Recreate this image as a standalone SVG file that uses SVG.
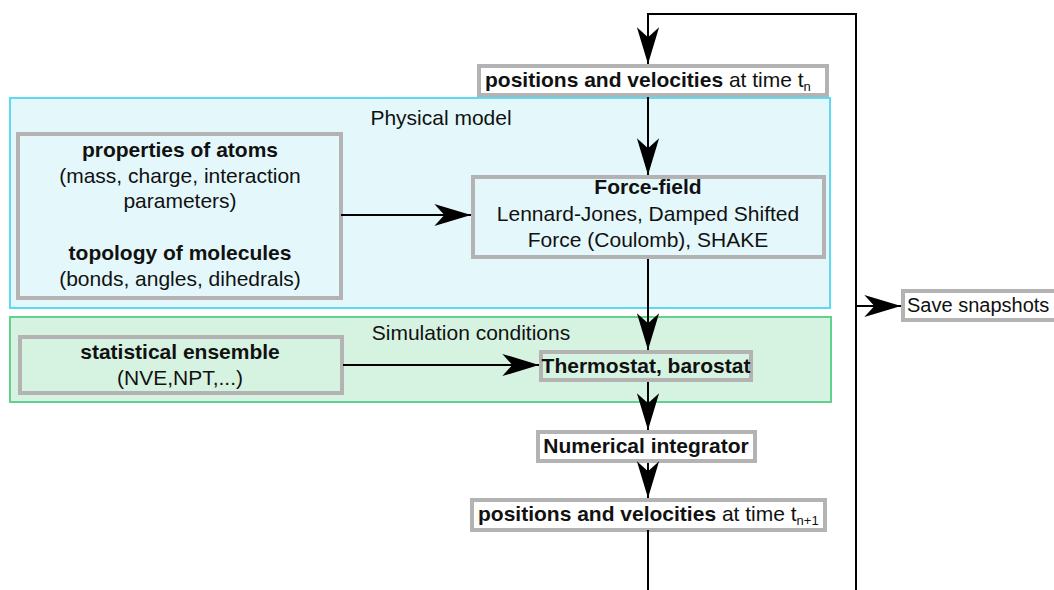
<svg xmlns="http://www.w3.org/2000/svg" width="1054" height="590" viewBox="0 0 1054 590">
<style>
text{font-family:"Liberation Sans",Arial,sans-serif;font-size:21px;fill:#111;}
.b{font-weight:bold;}
.c{text-anchor:middle;}
.box{fill:none;stroke:#b3b3b3;stroke-width:4;}
.wbox{fill:#fff;stroke:#b3b3b3;stroke-width:4;}
.ln{fill:none;stroke:#000;stroke-width:2;}
.sub{font-size:13px;}
</style>
<defs>
<marker id="ah" markerUnits="userSpaceOnUse" markerWidth="40" markerHeight="30" viewBox="-34 -12 36 24" refX="0" refY="0" orient="auto">
<path d="M0,0 L-33,-10 L-24,0 L-33,10 Z" fill="#000"/>
</marker>
</defs>
<g id="physical-model">
<rect x="10" y="98" width="820" height="210" fill="#e4f8fc" stroke="#5dd9f4" stroke-width="2"/>
<text x="441" y="125" class="c">Physical model</text>
</g>
<g id="simulation-conditions">
<rect x="10" y="317" width="821" height="85" fill="#d6f3e1" stroke="#63d18e" stroke-width="2"/>
<text x="471" y="340" class="c">Simulation conditions</text>
</g>
<g id="pos-n">
<rect x="479" y="66" width="348" height="29" class="wbox"/>
<text x="485" y="87"><tspan class="b">positions and velocities</tspan> at time t<tspan class="sub" dy="4">n</tspan></text>
</g>
<g id="atoms">
<rect x="18" y="134" width="323" height="164" class="box"/>
<text x="180" y="157" class="c b">properties of atoms</text>
<text x="180" y="183" class="c">(mass, charge, interaction</text>
<text x="180" y="208" class="c">parameters)</text>
<text x="180" y="260" class="c b">topology of molecules</text>
<text x="180" y="286" class="c">(bonds, angles, dihedrals)</text>
</g>
<g id="force-field">
<rect x="473" y="177" width="351" height="80" class="box"/>
<text x="648" y="194" class="c b">Force-field</text>
<text x="648" y="221" class="c">Lennard-Jones, Damped Shifted</text>
<text x="648" y="247" class="c">Force (Coulomb), SHAKE</text>
</g>
<g id="ensemble">
<rect x="20" y="337" width="322" height="56" class="box"/>
<text x="180" y="359" class="c b">statistical ensemble</text>
<text x="180" y="385" class="c">(NVE,NPT,...)</text>
</g>
<g id="thermostat">
<rect x="541" y="352" width="210" height="28" class="box"/>
<text x="646" y="373" class="c b">Thermostat, barostat</text>
</g>
<g id="integrator">
<rect x="538" y="432" width="217" height="29" class="wbox"/>
<text x="646" y="453" class="c b">Numerical integrator</text>
</g>
<g id="pos-n1">
<rect x="472" y="500" width="353" height="30" class="wbox"/>
<text x="478" y="521"><tspan class="b">positions and velocities</tspan> at time t<tspan class="sub" dy="4">n+1</tspan></text>
</g>
<g id="save">
<rect x="903" y="291" width="160" height="29" class="wbox"/>
<text x="907" y="312" style="font-size:20px">Save snapshots</text>
</g>
<g id="connectors">
<path d="M648,590 L648,530" class="ln"/>
<path d="M856,590 L856,14 L648,14 L648,64" class="ln" marker-end="url(#ah)"/>
<path d="M856,306 L901,306" class="ln" marker-end="url(#ah)"/>
<path d="M648,97 L648,175" class="ln" marker-end="url(#ah)"/>
<path d="M341,215 L471,215" class="ln" marker-end="url(#ah)"/>
<path d="M648,259 L648,350" class="ln" marker-end="url(#ah)"/>
<path d="M343,365 L539,365" class="ln" marker-end="url(#ah)"/>
<path d="M648,382 L648,430" class="ln" marker-end="url(#ah)"/>
<path d="M648,463 L648,498" class="ln" marker-end="url(#ah)"/>
</g>
</svg>
